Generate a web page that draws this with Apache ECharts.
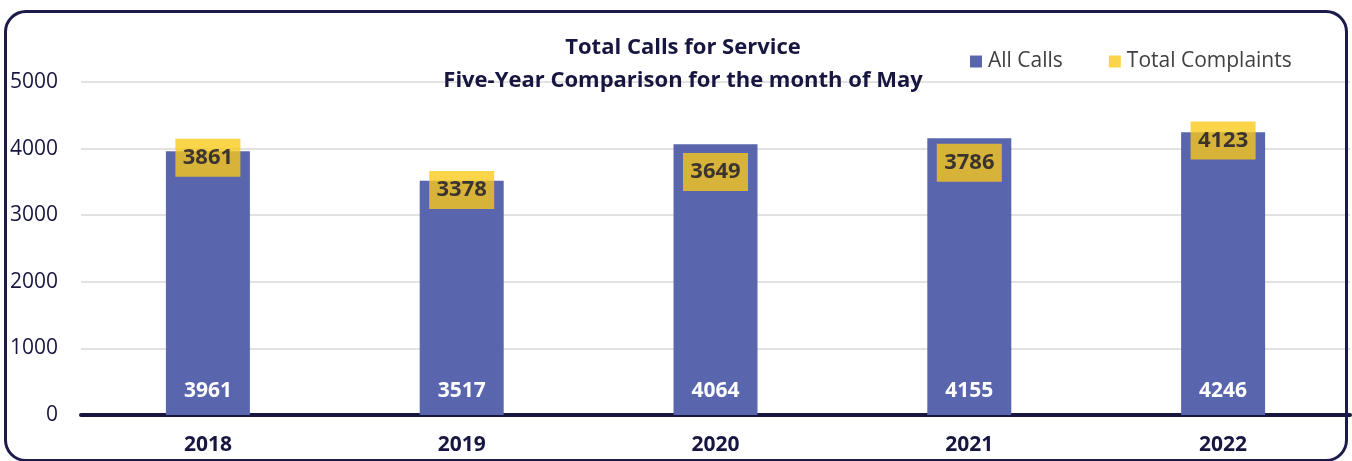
<!DOCTYPE html>
<html>
<head>
<meta charset="utf-8">
<script src="https://cdn.jsdelivr.net/npm/echarts@6/dist/echarts.min.js"></script>
<style>
  html, body { margin: 0; padding: 0; background: #fff; }
  #wrap { position: relative; width: 1352px; height: 461px; overflow: hidden; }
  #chart { position: absolute; left: 0; top: 0; width: 1352px; height: 461px; }
  .frame {
    position: absolute; left: 4px; top: 10px; width: 1338px; height: 446px;
    border: 3px solid #1b1b4b; border-radius: 22px; pointer-events: none;
  }
</style>
</head>
<body>
<div id="wrap">
  <div id="chart"></div>
  <div class="frame"></div>
</div>
<script>
// 数据
var years = ['2018', '2019', '2020', '2021', '2022'];
var allCalls = [3961, 3517, 4064, 4155, 4246];
var complaints = [3861, 3378, 3649, 3786, 4123];

(function () {
  var myChart = echarts.init(document.getElementById('chart'));
  var textColor = '#161640';
  var option = {
    animation: false,
    title: {
      text: 'Total Calls for Service\nFive-Year Comparison for the month of May',
      left: 678,
      textAlign: 'center',
      top: 26,
      textStyle: {
        fontFamily: 'Open Sans',
        fontSize: 22,
        fontWeight: 'bold',
        color: textColor,
        lineHeight: 33
      }
    },
    legend: {
      left: 965,
      top: 46,
      itemWidth: 12,
      itemHeight: 12,
      itemGap: 46,
      icon: 'rect',
      textStyle: {
        fontFamily: 'Open Sans',
        fontSize: 21,
        color: '#404040',
        padding: [0, 0, 0, 1]
      },
      data: ['All Calls', 'Total Complaints']
    },
    grid: {
      left: 81,
      right: 2,
      top: 82,
      bottom: 46
    },
    xAxis: {
      type: 'category',
      data: years,
      axisLine: {
        lineStyle: { color: '#161640', width: 4 }
      },
      axisTick: {
        alignWithLabel: true,
        length: 6,
        lineStyle: { color: '#161640', width: 3 }
      },
      axisLabel: {
        fontFamily: 'Open Sans',
        fontSize: 21,
        fontWeight: 'bold',
        color: textColor,
        margin: 20
      }
    },
    yAxis: {
      type: 'value',
      min: 0,
      max: 5000,
      interval: 1000,
      axisLine: { show: false },
      axisTick: { show: false },
      axisLabel: {
        fontFamily: 'Open Sans',
        fontSize: 21,
        color: textColor,
        margin: 23,
        formatter: function (v) { return String(v); }
      },
      splitLine: {
        lineStyle: { color: '#d9d9d9', width: 1.5 }
      }
    },
    series: [
      {
        name: 'All Calls',
        type: 'bar',
        data: allCalls,
        barWidth: 84,
        itemStyle: { color: '#5966ad' },
        label: {
          show: true,
          position: 'insideBottom',
          distance: 13,
          fontFamily: 'Open Sans',
          fontSize: 21,
          fontWeight: 'bold',
          color: '#ffffff'
        },
        z: 2
      },
      {
        name: 'Total Complaints',
        type: 'scatter',
        data: complaints,
        symbol: 'rect',
        symbolSize: [65, 38],
        itemStyle: { color: 'rgb(249,202,26)', opacity: 0.79 },
        label: {
          show: true,
          position: 'inside',
          fontFamily: 'Open Sans',
          fontSize: 22,
          fontWeight: 'bold',
          color: '#10102e'
        },
        z: 5
      }
    ]
  };
  myChart.setOption(option);
  window.addEventListener('resize', function () {
    myChart.resize();
  });
})();
</script>
</body>
</html>
